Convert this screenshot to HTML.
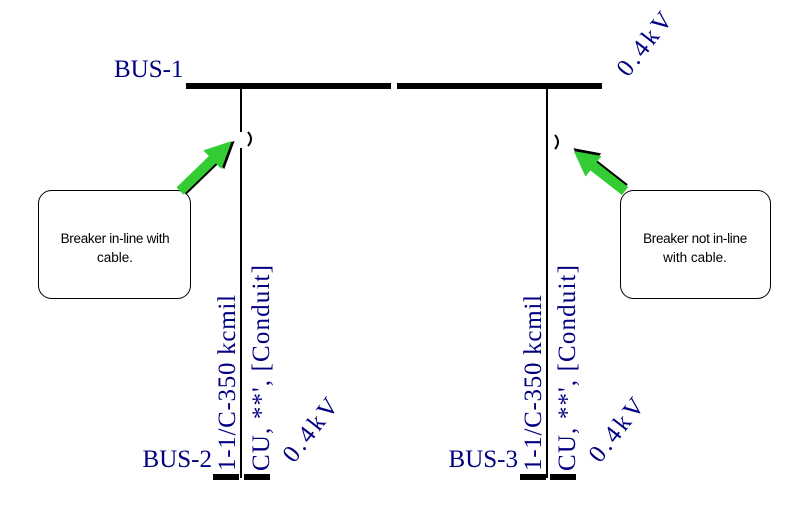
<!DOCTYPE html>
<html><head><meta charset="utf-8"><style>
html,body{margin:0;padding:0;background:#fff;width:788px;height:527px;overflow:hidden}
svg{display:block}
.t{font-family:"Liberation Serif",serif;fill:#000080;font-size:25px}
.v{font-family:"Liberation Serif",serif;fill:#000080;font-size:25px;letter-spacing:3px}
.s{font-family:"Liberation Sans",sans-serif;font-size:13.5px;fill:#000}
</style></head><body>
<svg width="788" height="527" viewBox="0 0 788 527">
<rect x="186" y="83" width="205" height="6" fill="#000"/>
<rect x="397" y="83" width="205" height="6" fill="#000"/>
<line x1="241" y1="89" x2="241" y2="132" stroke="#000" stroke-width="2"/>
<line x1="241" y1="148" x2="241" y2="478" stroke="#000" stroke-width="2"/>
<path d="M248 132 Q254 139 248 146" fill="none" stroke="#000" stroke-width="2"/>
<line x1="547" y1="89" x2="547" y2="478" stroke="#000" stroke-width="2"/>
<path d="M555 135 Q561 142 555 149" fill="none" stroke="#000" stroke-width="2"/>
<rect x="213" y="474" width="26" height="6" fill="#000"/>
<rect x="244" y="474" width="26" height="6" fill="#000"/>
<rect x="520" y="474" width="26" height="6" fill="#000"/>
<rect x="550" y="474" width="26" height="6" fill="#000"/>
<text class="t" x="114" y="77">BUS-1</text>
<text class="t" x="212" y="467" text-anchor="end">BUS-2</text>
<text class="t" x="518" y="467" text-anchor="end">BUS-3</text>
<text class="v" transform="translate(628,78) rotate(-52)">0.4kV</text>
<text class="v" transform="translate(294,464) rotate(-52)">0.4kV</text>
<text class="v" transform="translate(600,464) rotate(-52)">0.4kV</text>
<text class="t" transform="translate(235,471) rotate(-90)" textLength="176">1-1/C-350 kcmil</text>
<text class="t" transform="translate(269,471) rotate(-90)" textLength="206">CU, **', [Conduit]</text>
<text class="t" transform="translate(541,471) rotate(-90)" textLength="176">1-1/C-350 kcmil</text>
<text class="t" transform="translate(575,471) rotate(-90)" textLength="206">CU, **', [Conduit]</text>
<rect x="38.5" y="190.5" width="152" height="108" rx="13" fill="#fff" stroke="#000" stroke-width="1"/>
<text class="s" x="115" y="243" text-anchor="middle" letter-spacing="-0.3">Breaker in-line with</text>
<text class="s" x="115" y="262" text-anchor="middle">cable.</text>
<rect x="620.5" y="190.5" width="150" height="108" rx="13" fill="#fff" stroke="#000" stroke-width="1"/>
<text class="s" x="695" y="243" text-anchor="middle" letter-spacing="-0.3">Breaker not in-line</text>
<text class="s" x="695" y="262" text-anchor="middle">with cable.</text>
<g transform="translate(180,191) rotate(-44)">
<polygon points="0,-5 45,-5 45,-13 72,0 45,13 45,5 0,5" fill="#000" transform="translate(2,2)"/>
<polygon points="0,-5 45,-5 45,-13 72,0 45,13 45,5 0,5" fill="#33cc33"/>
</g>
<g transform="translate(625,191) rotate(-142)">
<polygon points="0,-5 40,-5 40,-13 65,0 40,13 40,5 0,5" fill="#000" transform="translate(2,2)"/>
<polygon points="0,-5 40,-5 40,-13 65,0 40,13 40,5 0,5" fill="#33cc33"/>
</g>
</svg>
</body></html>
